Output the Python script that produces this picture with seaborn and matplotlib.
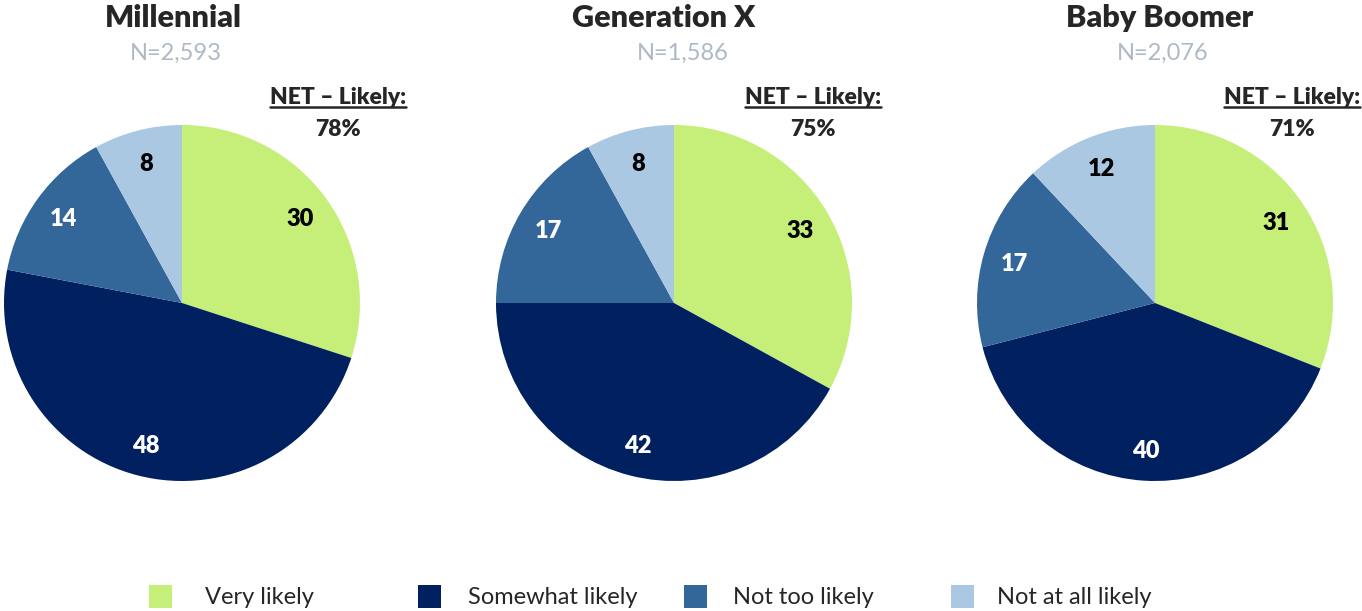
import matplotlib
matplotlib.use("Agg")
import matplotlib.pyplot as plt
import seaborn as sns
from matplotlib.patches import Rectangle
from matplotlib.lines import Line2D

# Data
GENERATIONS = ["Millennial", "Generation X", "Baby Boomer"]
SAMPLE_N = ["N=2,593", "N=1,586", "N=2,076"]
NET_LIKELY = ["78%", "75%", "71%"]
CATEGORIES = ["Very likely", "Somewhat likely", "Not too likely", "Not at all likely"]
MILLENNIAL = [30, 48, 14, 8]
GEN_X = [33, 42, 17, 8]
BOOMER = [31, 40, 17, 12]

sns.set_theme(style="white")
plt.rcParams["font.family"] = ["Lato", "DejaVu Sans"]

COLORS = sns.color_palette(["#C6EF7A", "#002060", "#336699", "#ABC8E3"])
LABEL_COLORS = ["black", "white", "white", "black"]
TEXT = "#262626"
GREY = "#ADB9C6"

W, H = 1362, 611
fig = plt.figure(figsize=(W / 100, H / 100), dpi=100)


def fx(x):
    return x / W


def fy(y):
    return 1 - y / H


centers = [182, 674, 1155]
title_x = [173, 664, 1160]
n_x = [176, 683, 1163]
net_x = [338, 813, 1292]
cy, r = 303, 178

renderer = fig.canvas.get_renderer()

for i, values in enumerate([MILLENNIAL, GEN_X, BOOMER]):
    cx = centers[i]
    ax = fig.add_axes([fx(cx - r), fy(cy + r), 2 * r / W, 2 * r / H])
    wedges, texts = ax.pie(values, labels=[str(v) for v in values], colors=COLORS,
                           startangle=90, counterclock=False, labeldistance=0.82,
                           wedgeprops=dict(linewidth=0),
                           textprops=dict(fontsize=17, fontweight="heavy", ha="center",
                                          va="center_baseline"))
    for t, c in zip(texts, LABEL_COLORS):
        t.set_color(c)
    ax.set_xlim(-1, 1)
    ax.set_ylim(-1, 1)
    ax.axis("off")

    fig.text(fx(title_x[i]), fy(18), GENERATIONS[i], ha="center", va="center",
             fontsize=22, fontweight="heavy", color=TEXT)
    fig.text(fx(n_x[i]), fy(53), SAMPLE_N[i], ha="center", va="center",
             fontsize=17, color=GREY)
    net = fig.text(fx(net_x[i]), fy(97), "NET \u2013 Likely:", ha="center", va="center",
                   fontsize=16.5, fontweight="heavy", color=TEXT)
    fig.text(fx(net_x[i]), fy(129), NET_LIKELY[i], ha="center", va="center",
             fontsize=16.5, fontweight="heavy", color=TEXT)
    # underline the NET heading
    bb = net.get_window_extent(renderer=renderer)
    fig.add_artist(Line2D([bb.x0 / W, bb.x1 / W], [(bb.y0 + 1) / H, (bb.y0 + 1) / H],
                          transform=fig.transFigure, color=TEXT, linewidth=1.8))

# legend keys laid out like the source
key_x = [149, 418, 684, 951]
text_x = [205, 468, 733, 997]
for color, label, kx, tx in zip(COLORS, CATEGORIES, key_x, text_x):
    fig.add_artist(Rectangle((fx(kx), fy(608)), 23 / W, 23 / H,
                             transform=fig.transFigure, facecolor=color, edgecolor="none"))
    fig.text(fx(tx), fy(598), label, ha="left", va="center", fontsize=17, color=TEXT)

fig.savefig("out.png", dpi=100)
